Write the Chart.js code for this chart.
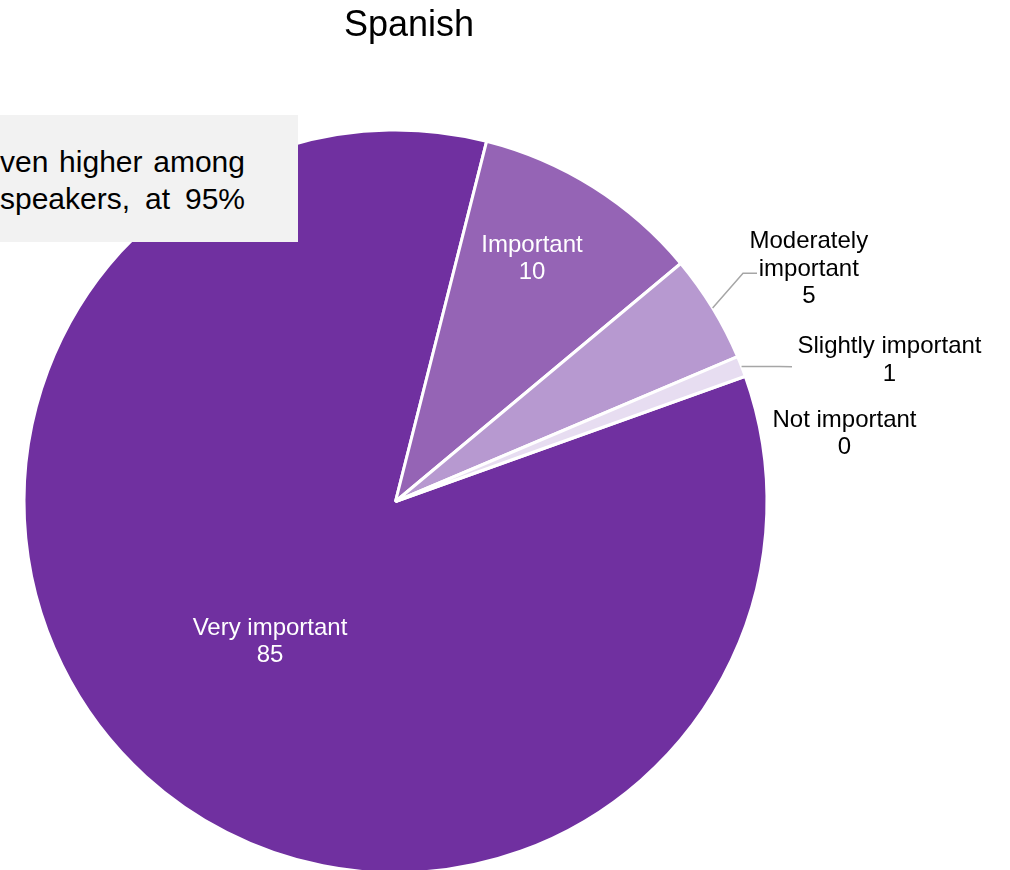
<!DOCTYPE html>
<html>
<head>
<meta charset="utf-8">
<title>Spanish</title>
<script src="https://cdn.jsdelivr.net/npm/chart.js@4.4.0/dist/chart.umd.min.js"></script>
<style>
  html, body { margin: 0; padding: 0; background: #fff; overflow: hidden; }
  body { width: 1010px; height: 870px; position: relative; font-family: "Liberation Sans", Arial, sans-serif; }
  #chart { position: absolute; left: 0; top: 0; }
  #title { position: absolute; left: 0; top: 6px; width: 818px; text-align: center; font-size: 36px; line-height: 36px; color: #000; }
  #note { position: absolute; left: 0; top: 115px; width: 298px; height: 127px; background: #F2F2F2; overflow: hidden; }
  #note .line { position: absolute; left: 0; width: 245px; display: flex; justify-content: space-between; font-size: 30px; line-height: 37px; color: #000; white-space: nowrap; }
</style>
</head>
<body>
<canvas id="chart" width="1010" height="880"></canvas>
<div id="title">Spanish</div>
<div id="note">
  <div class="line" style="top:28px"><span>ven</span><span>higher</span><span>among</span></div>
  <div class="line" style="top:65px"><span>speakers,</span><span>at</span><span>95%</span></div>
</div>
<script>
// Chart data (slice sizes; labels show them rounded)
const categories = ['Very important', 'Important', 'Moderately important', 'Slightly important', 'Not important'];
const values = [84.5, 10, 4.7, 0.9, 0];
const sliceColors = ['#7030A0', '#9564B5', '#B799D0', '#E7DDF1', '#D9D9D9'];

// How each category label is broken into lines
const labelLines = categories.map(c => c === 'Moderately important' ? ['Moderately', 'important'] : [c]);

// Label placement, offsets from the pie centre (dy = first baseline)
const labelSpots = [
    { dx: -125.5, dy: 133.5, color: '#FFFFFF' },
    { dx: 136.5, dy: -249.8, color: '#FFFFFF' },
    { dx: 413.3, dy: -253.2, color: '#000000', leader: [[347.5, -228.2], [361.5, -228.2]] },
    { dx: 494, dy: -148.2, color: '#000000', leader: [[383.5, -135], [396.5, -134.8]] },
    { dx: 449, dy: -74.8, color: '#000000' }
];

// Draws the data labels and leader lines
const sliceLabels = {
    id: 'sliceLabels',
    afterDatasetsDraw(chart) {
        const ctx = chart.ctx;
        const arcs = chart.getDatasetMeta(0).data;
        ctx.save();
        ctx.font = '24px "Liberation Sans", Arial, sans-serif';
        ctx.textAlign = 'center';
        ctx.textBaseline = 'alphabetic';
        arcs.forEach((arc, i) => {
            const { x, y, startAngle, endAngle, outerRadius } =
                arc.getProps(['x', 'y', 'startAngle', 'endAngle', 'outerRadius'], true);
            const spot = labelSpots[i];
            if (spot.leader) {
                const mid = (startAngle + endAngle) / 2;
                ctx.beginPath();
                ctx.moveTo(x + Math.cos(mid) * outerRadius, y + Math.sin(mid) * outerRadius);
                spot.leader.forEach(p => ctx.lineTo(x + p[0], y + p[1]));
                ctx.strokeStyle = '#A6A6A6';
                ctx.lineWidth = 1.5;
                ctx.stroke();
            }
            ctx.fillStyle = spot.color;
            const lines = [...labelLines[i], String(Math.round(values[i]))];
            lines.forEach((t, k) => ctx.fillText(t, x + spot.dx, y + spot.dy + k * 27.3));
        });
        ctx.restore();
    }
};

const ctx = document.getElementById('chart').getContext('2d');
new Chart(ctx, {
    type: 'pie',
    data: {
        labels: categories,
        datasets: [{
            data: values,
            backgroundColor: sliceColors,
            borderColor: '#FFFFFF',
            borderWidth: 3,
            hoverOffset: 0
        }]
    },
    options: {
        responsive: false,
        animation: false,
        devicePixelRatio: 1,
        rotation: 70.3,
        radius: 371.5,
        layout: { padding: { left: 24, right: 243, top: 130, bottom: 7 } },
        plugins: {
            legend: { display: false },
            tooltip: { enabled: false },
            title: { display: false }
        }
    },
    plugins: [sliceLabels]
});
</script>
</body>
</html>
